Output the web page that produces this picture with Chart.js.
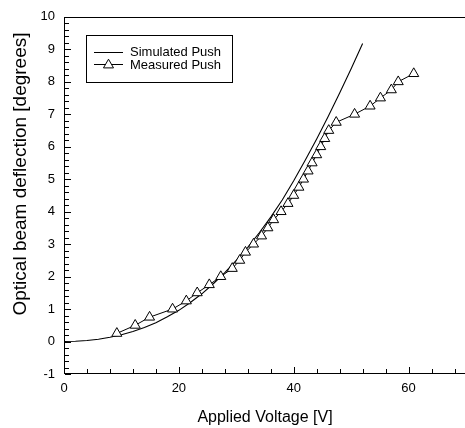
<!DOCTYPE html>
<html>
<head>
<meta charset="utf-8">
<script src="https://cdn.jsdelivr.net/npm/chart.js@4.4.0/dist/chart.umd.min.js"></script>
<style>
    html, body { margin: 0; padding: 0; background: #fff; overflow: hidden; }
    canvas { display: block; }
</style>
</head>
<body>
<canvas id="myChart" width="473" height="428"></canvas>
<script>
// simulated push curve
const simVoltage = [0, 2, 4, 6, 8, 10, 12, 14, 16, 18, 20, 22, 24, 26, 28, 30, 32, 34, 36, 38, 40, 42, 44, 46, 48, 50, 52];
const simDeflection = [0, 0.01, 0.03, 0.07, 0.13, 0.21, 0.31, 0.43, 0.58, 0.76, 0.96, 1.2, 1.47, 1.78, 2.12, 2.5, 2.9, 3.35, 3.83, 4.36, 4.95, 5.58, 6.24, 6.93, 7.65, 8.4, 9.18];

// measured push points
const measVoltage = [9.2, 12.4, 14.9, 18.9, 21.3, 23.2, 25.3, 27.3, 29.3, 30.6, 31.6, 33.0, 34.4, 35.5, 36.5, 37.8, 39.0, 40.0, 40.9, 41.7, 42.5, 43.2, 44.0, 44.7, 45.4, 46.1, 47.4, 50.6, 53.3, 55.1, 57.0, 58.2, 60.9];
const measDeflection = [0.25, 0.5, 0.75, 1.0, 1.25, 1.5, 1.75, 2.0, 2.25, 2.5, 2.75, 3.0, 3.25, 3.5, 3.75, 4.0, 4.25, 4.5, 4.75, 5.0, 5.25, 5.5, 5.75, 6.0, 6.25, 6.5, 6.75, 7.0, 7.25, 7.5, 7.75, 8.0, 8.25];

// tick labels
const xLabels = [0, 20, 40, 60];
const yLabels = [-1, 0, 1, 2, 3, 4, 5, 6, 7, 8, 9, 10];
const legendLabels = ['Simulated Push', 'Measured Push'];

const FONT = "'Liberation Sans', Arial, Helvetica, sans-serif";
Chart.defaults.font.family = FONT;
Chart.defaults.color = '#000';

const isYLabel = (v) => yLabels.some(l => Math.abs(l - v) < 1e-6);

// draws the frame, inward tick marks, the y title and the legend box
const decorations = {
    id: 'decorations',
    afterDraw(chart) {
        const { ctx, chartArea: a } = chart;
        const xs = chart.scales.x;
        const ys = chart.scales.y;
        const yMin = yLabels[0];

        ctx.save();
        ctx.strokeStyle = '#000';
        ctx.fillStyle = '#000';
        ctx.lineWidth = 1;

        const left = Math.round(a.left);
        const top = Math.round(a.top);
        const bottom = Math.round(a.bottom) - 1;
        const right = Math.round(a.right) - 1;
        ctx.strokeRect(left + 0.5, top + 0.5, right - left, bottom - top);

        // minor ticks every 4 V, major at the labels
        for (let i = 0; i * 4 <= 70; i++) {
            const v = i * 4;
            const px = Math.round(xs.getPixelForValue(v));
            const len = xLabels.includes(v) ? 6 : 4;
            ctx.fillRect(px, bottom - len, 1, len);
        }
        // minor ticks every 0.2 degree, major at integers
        for (let i = 0; i <= 55; i++) {
            const v = yMin + i * 0.2;
            const py = Math.round(ys.getPixelForValue(v));
            const len = isYLabel(v) ? 6 : 4;
            ctx.fillRect(left + 1, py, len, 1);
        }

        // y axis title
        ctx.save();
        ctx.translate(21, 174);
        ctx.rotate(-Math.PI / 2);
        ctx.font = '19px ' + FONT;
        ctx.textAlign = 'center';
        ctx.textBaseline = 'middle';
        ctx.fillText('Optical beam deflection [degrees]', 0, 0);
        ctx.restore();

        // legend
        ctx.strokeRect(86.5, 35.5, 146, 47);
        ctx.beginPath();
        ctx.moveTo(94, 52.5);
        ctx.lineTo(123, 52.5);
        ctx.moveTo(94, 64.5);
        ctx.lineTo(123, 64.5);
        ctx.stroke();
        const cx = 108.5, cy = 65, r = 5.8;
        ctx.beginPath();
        ctx.moveTo(cx, cy - r);
        ctx.lineTo(cx + r * 0.866, cy + r / 2);
        ctx.lineTo(cx - r * 0.866, cy + r / 2);
        ctx.closePath();
        ctx.fillStyle = '#fff';
        ctx.fill();
        ctx.stroke();
        ctx.fillStyle = '#000';
        ctx.font = '13px ' + FONT;
        ctx.textAlign = 'left';
        ctx.textBaseline = 'middle';
        ctx.fillText(legendLabels[0], 130, 52.5);
        ctx.fillText(legendLabels[1], 130, 65);
        ctx.restore();
    }
};

const chart = new Chart(document.getElementById('myChart'), {
    type: 'scatter',
    data: {
        datasets: [{
            label: legendLabels[0],
            data: simVoltage.map((v, i) => ({ x: v, y: simDeflection[i] })),
            showLine: true,
            borderColor: '#000',
            borderWidth: 1.1,
            pointRadius: 0,
            tension: 0,
            order: 1
        }, {
            label: legendLabels[1],
            data: measVoltage.map((v, i) => ({ x: v, y: measDeflection[i] })),
            showLine: true,
            borderColor: '#000',
            borderWidth: 1,
            pointStyle: 'triangle',
            pointRadius: 5.8,
            pointBackgroundColor: '#fff',
            pointBorderColor: '#000',
            pointBorderWidth: 1,
            order: 0
        }]
    },
    options: {
        responsive: false,
        animation: false,
        events: [],
        layout: { padding: { top: 11, left: 0, right: 0, bottom: 0 } },
        plugins: {
            legend: { display: false },
            tooltip: { enabled: false }
        },
        scales: {
            x: {
                type: 'linear',
                min: 0,
                max: 70,
                grid: { display: false, drawTicks: false },
                border: { display: false },
                ticks: {
                    stepSize: 4,
                    autoSkip: false,
                    maxRotation: 0,
                    padding: 7,
                    font: { size: 13 },
                    callback: (v) => xLabels.includes(v) ? v : ''
                },
                title: {
                    display: true,
                    text: 'Applied Voltage [V]',
                    font: { size: 16 },
                    padding: { top: 0, bottom: 1 }
                },
                afterFit: (scale) => { scale.height = 54; }
            },
            y: {
                min: -1,
                max: 10,
                grid: { display: false, drawTicks: false },
                border: { display: false },
                ticks: {
                    stepSize: 0.2,
                    autoSkip: false,
                    maxTicksLimit: 100,
                    padding: 9,
                    font: { size: 13 },
                    callback: (v) => isYLabel(v) ? Math.round(v) : ''
                },
                afterFit: (scale) => { scale.width = 64; }
            }
        }
    },
    plugins: [decorations]
});
</script>
</body>
</html>
